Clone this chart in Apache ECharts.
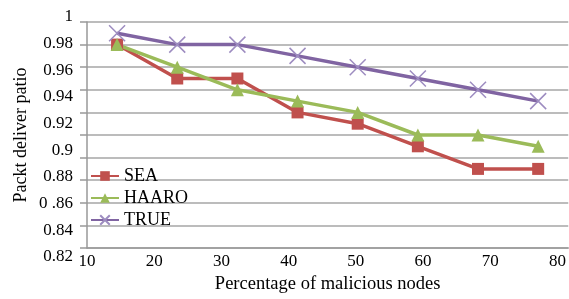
<!DOCTYPE html>
<html>
<head>
<meta charset="utf-8">
<script src="https://cdn.jsdelivr.net/npm/echarts@6/dist/echarts.min.js"></script>
<style>
html, body { margin: 0; padding: 0; background: #fff; }
#chart { width: 569px; height: 299px; }
</style>
</head>
<body>
<div id="chart"></div>
<script>
// data
var xCategories = ['10', '20', '30', '40', '50', '60', '70', '80'];
var seaData = [0.98, 0.95, 0.95, 0.92, 0.91, 0.89, 0.87, 0.87];
var haaroData = [0.98, 0.96, 0.94, 0.93, 0.92, 0.90, 0.90, 0.89];
var trueData = [0.99, 0.98, 0.98, 0.97, 0.96, 0.95, 0.94, 0.93];
// tick labels as printed (bottom to top)
var yLabels = ['0.82', '0.84', '0 .86', '0.88', '0.9', '0.92', '0.94', '0.96', '0.98', '1'];

var font = 'Liberation Serif';
var chart = echarts.init(document.getElementById('chart'));

var crossPath = 'path://M0,0L10,10M10,0L0,10';

var option = {
	animation: false,
	grid: [
		{ left: 87, top: 22, right: 0, bottom: 47 },
		{ left: 87, top: 17, right: 0, bottom: 42 }
	],
	legend: {
		orient: 'vertical',
		left: 85,
		top: 162,
		itemWidth: 28,
		itemHeight: 12,
		itemGap: 4,
		textStyle: { fontFamily: font, fontSize: 18, color: '#000' },
		data: ['SEA', 'HAARO', 'TRUE']
	},
	xAxis: [{
		type: 'category',
		gridIndex: 0,
		data: xCategories,
		boundaryGap: true,
		axisLine: { show: true, lineStyle: { color: '#999', width: 1.5 } },
		axisTick: { show: false },
		axisLabel: { show: false }
	}, {
		type: 'value',
		gridIndex: 0,
		min: 10,
		max: 81.6,
		interval: 10,
		position: 'bottom',
		axisLine: { show: false },
		axisTick: { show: false },
		splitLine: { show: false },
		axisLabel: {
			showMaxLabel: false,
			margin: 5,
			fontFamily: font,
			fontSize: 17,
			color: '#000'
		},
		name: 'Percentage of malicious nodes',
		nameLocation: 'middle',
		nameGap: 27,
		nameTextStyle: { fontFamily: font, fontSize: 18.5, color: '#000' }
	}, {
		type: 'category',
		gridIndex: 1,
		show: false,
		data: xCategories
	}],
	yAxis: [{
		type: 'value',
		gridIndex: 0,
		min: 0.8,
		max: 1.0,
		interval: 0.02,
		axisLine: { show: true, lineStyle: { color: '#999', width: 1.5 } },
		axisTick: { show: true, length: 7, lineStyle: { color: '#999', width: 1.5 } },
		axisLabel: { show: false },
		splitLine: { show: true, lineStyle: { color: '#a6a6a6', width: 1.5 } },
		name: 'Packt deliver patio',
		nameLocation: 'middle',
		nameGap: 57,
		nameTextStyle: { fontFamily: font, fontSize: 18, color: '#000' }
	}, {
		type: 'category',
		gridIndex: 1,
		data: yLabels,
		boundaryGap: false,
		axisLine: { show: false },
		axisTick: { show: false },
		splitLine: { show: false },
		axisLabel: { margin: 14, fontFamily: font, fontSize: 17, color: '#000' }
	}],
	series: [{
		name: 'SEA',
		type: 'line',
		xAxisIndex: 0,
		yAxisIndex: 0,
		data: seaData,
		symbol: 'rect',
		symbolSize: 12,
		lineStyle: { color: '#C0504D', width: 3.5 },
		itemStyle: { color: '#C0504D' }
	}, {
		name: 'HAARO',
		type: 'line',
		xAxisIndex: 0,
		yAxisIndex: 0,
		data: haaroData,
		symbol: 'triangle',
		symbolSize: 13,
		lineStyle: { color: '#9BBB59', width: 3.5 },
		itemStyle: { color: '#9BBB59' }
	}, {
		name: 'TRUE',
		type: 'line',
		xAxisIndex: 0,
		yAxisIndex: 0,
		data: trueData,
		symbol: crossPath,
		symbolSize: 16,
		lineStyle: { color: '#8064A2', width: 3.5 },
		itemStyle: { color: '#9d8cc0', borderColor: '#9d8cc0', borderWidth: 1.5 }
	}]
};

chart.setOption(option);
</script>
</body>
</html>
